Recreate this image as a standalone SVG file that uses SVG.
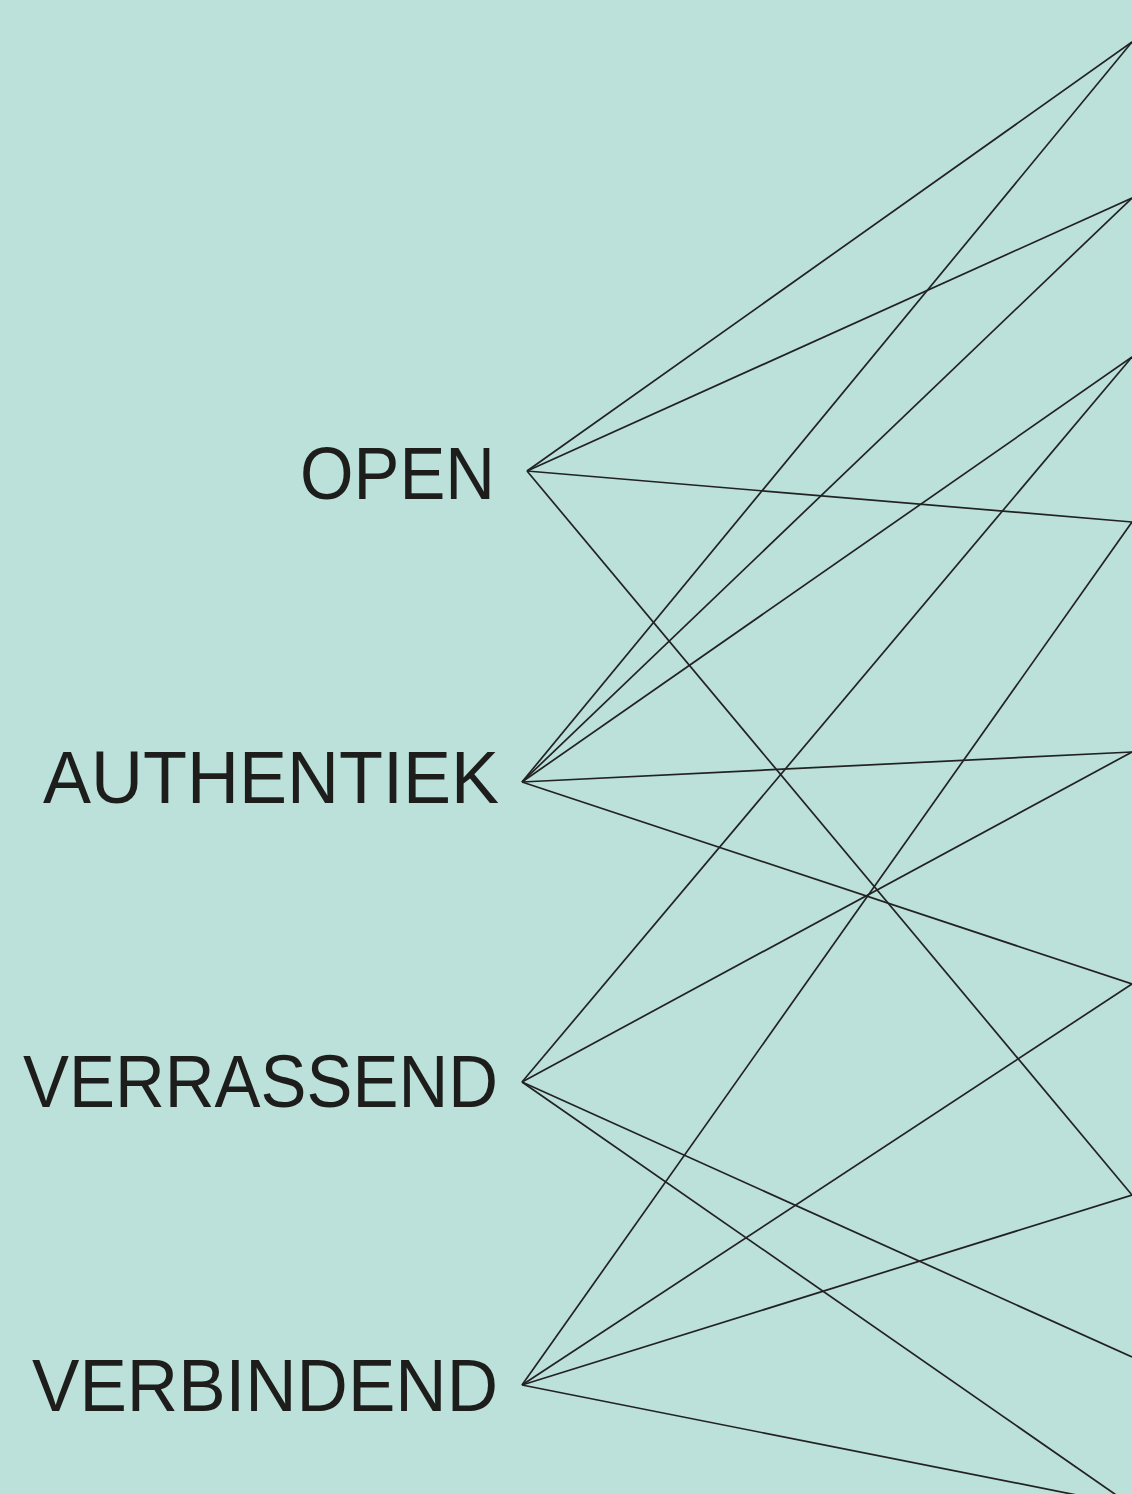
<svg xmlns="http://www.w3.org/2000/svg" width="1132" height="1494" viewBox="0 0 1132 1494">
<style>
.lbl{font-family:"Liberation Sans",Arial,sans-serif;font-size:75px;fill:#1d1d1b}
.c line{stroke:#222;stroke-width:1.7;fill:none}
</style>
<rect width="1132" height="1494" fill="#bce0da"/>
<g class="c" id="connectors">
<line x1="527" y1="471" x2="1132" y2="42"/>
<line x1="527" y1="471" x2="1132" y2="198"/>
<line x1="527" y1="471" x2="1132" y2="522"/>
<line x1="527" y1="471" x2="1132" y2="1195"/>
<line x1="522" y1="782" x2="1132" y2="42"/>
<line x1="522" y1="782" x2="1132" y2="198"/>
<line x1="522" y1="782" x2="1132" y2="357"/>
<line x1="522" y1="782" x2="1132" y2="752"/>
<line x1="522" y1="782" x2="1132" y2="984"/>
<line x1="522" y1="1082" x2="1132" y2="357"/>
<line x1="522" y1="1082" x2="1132" y2="752"/>
<line x1="522" y1="1082" x2="1132" y2="1357"/>
<line x1="522" y1="1082" x2="1132" y2="1506"/>
<line x1="522" y1="1385" x2="1132" y2="522"/>
<line x1="522" y1="1385" x2="1132" y2="984"/>
<line x1="522" y1="1385" x2="1132" y2="1195"/>
<line x1="522" y1="1385" x2="1132" y2="1506"/>
</g>
<g id="open"><text class="lbl" x="300" y="499" textLength="195" lengthAdjust="spacingAndGlyphs">OPEN</text></g>
<g id="authentiek"><text class="lbl" x="43" y="803" textLength="456" lengthAdjust="spacingAndGlyphs">AUTHENTIEK</text></g>
<g id="verrassend"><text class="lbl" x="23" y="1107" textLength="475" lengthAdjust="spacingAndGlyphs">VERRASSEND</text></g>
<g id="verbindend"><text class="lbl" x="32" y="1411" textLength="466" lengthAdjust="spacingAndGlyphs">VERBINDEND</text></g>
</svg>
